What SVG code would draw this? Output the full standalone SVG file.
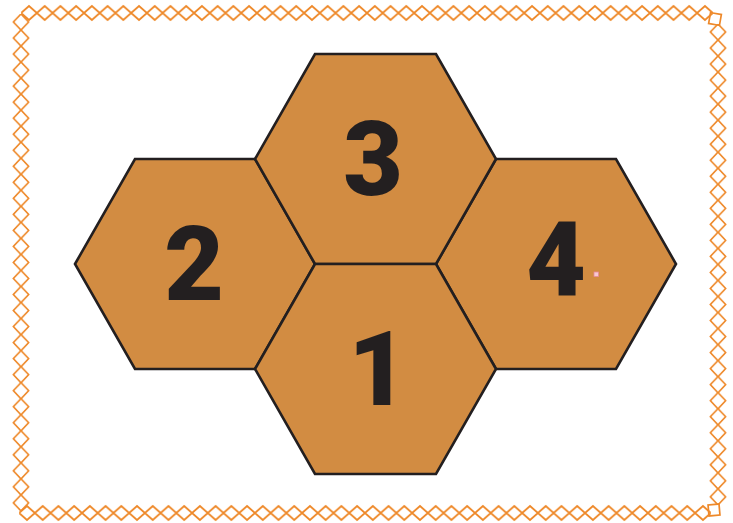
<svg xmlns="http://www.w3.org/2000/svg" width="733" height="523" viewBox="0 0 733 523">
<defs>
<style>
.hex{fill:#D28C42;stroke:#231F20;stroke-width:2.6;stroke-linejoin:miter}
.num{font-family:Roboto,"Open Sans","Liberation Sans",sans-serif;font-weight:900;font-size:103px;fill:#231F20;text-anchor:middle}
.dia{fill:none;stroke:#EE892A;stroke-width:1.7}
</style>
<pattern id="ph" patternUnits="userSpaceOnUse" x="0" y="0" width="15.72" height="20">
<polygon class="dia" points="0,10 7.86,3 15.72,10 7.86,17"/>
</pattern>
<pattern id="pv" patternUnits="userSpaceOnUse" x="0" y="0" width="20" height="16.03">
<polygon class="dia" points="10,0 17.6,8.015 10,16.03 2.4,8.015"/>
</pattern>
</defs>
<rect width="733" height="523" fill="#ffffff"/>
<g id="border">
<rect transform="translate(21.14,3)" width="691.7" height="20" fill="url(#ph)"/>
<rect transform="translate(19.14,503)" width="691.7" height="20" fill="url(#ph)"/>
<rect transform="translate(11,13.985)" width="20" height="496.9" fill="url(#pv)"/>
<rect transform="translate(708,23.985)" width="20" height="480.9" fill="url(#pv)"/>
<rect class="dia" x="709.5" y="13.5" width="11" height="11" transform="rotate(10 715 19)"/>
<rect class="dia" x="708.5" y="504.5" width="11" height="11" transform="rotate(-5 714 510)"/>
</g>
<g id="hex2"><polygon class="hex" points="75,264 135,159 255,159 315,264 255,369 135,369"/><text class="num" x="194" y="300">2</text></g>
<g id="hex4"><polygon class="hex" points="436,264 496,159 616,159 676,264 616,369 496,369"/><text class="num" x="556" y="296">4</text></g>
<g id="hex3"><polygon class="hex" points="255,159 315,54 436,54 496,159 436,264 315,264"/><text class="num" x="373" y="195">3</text></g>
<g id="hex1"><polygon class="hex" points="255,369 315,264 436,264 496,369 436,474 315,474"/><text class="num" x="378" y="405">1</text></g>
<g id="marker"><rect x="594" y="272" width="4.5" height="4.5" fill="#F7C9D2" stroke="#E9889A" stroke-width="0.8"/></g>
</svg>
